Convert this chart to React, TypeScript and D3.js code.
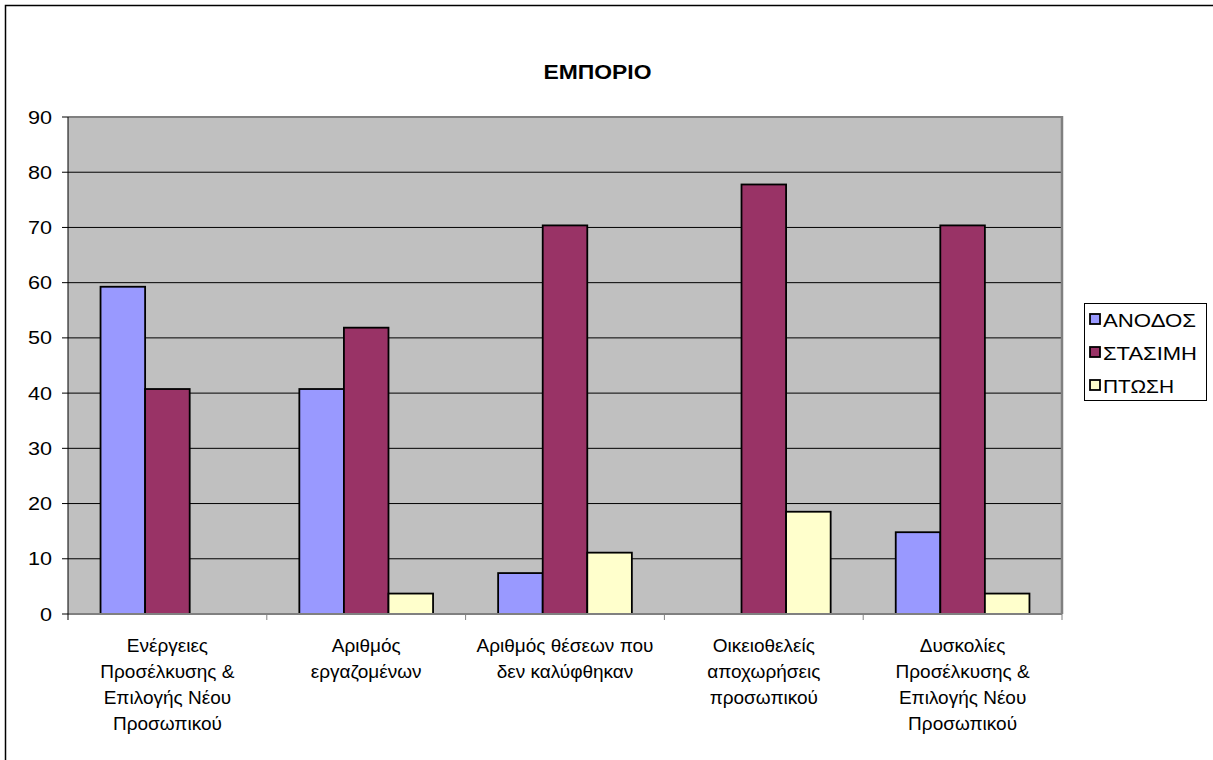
import React from "react";
import * as d3 from "d3";

const title = "ΕΜΠΟΡΙΟ";
const categories: string[][] = [
  ["Ενέργειες", "Προσέλκυσης &", "Επιλογής Νέου", "Προσωπικού"],
  ["Αριθμός", "εργαζομένων"],
  ["Αριθμός θέσεων που", "δεν καλύφθηκαν"],
  ["Οικειοθελείς", "αποχωρήσεις", "προσωπικού"],
  ["Δυσκολίες", "Προσέλκυσης &", "Επιλογής Νέου", "Προσωπικού"],
];
const seriesNames = ["ΑΝΟΔΟΣ", "ΣΤΑΣΙΜΗ", "ΠΤΩΣΗ"];
const seriesColors = ["#9999FF", "#993366", "#FFFFCC"];
const anodos = [59.26, 40.74, 7.41, 0, 14.81];
const stasimi = [40.74, 51.85, 70.37, 77.78, 70.37];
const ptosi = [0, 3.7, 11.11, 18.52, 3.7];
const yTicks = [0, 10, 20, 30, 40, 50, 60, 70, 80, 90];

const FONT = "'Liberation Sans', Arial, sans-serif";

export default function App() {
  const W = 1213, H = 760;
  const left = 68, right = 1062, top = 117, bottom = 614;
  const values = [anodos, stasimi, ptosi];
  const catIdx = categories.map((_, i) => String(i));
  const x = d3.scaleBand<string>().domain(catIdx).range([left, right]).padding(0);
  const xs = d3
    .scaleBand<string>()
    .domain(seriesNames)
    .range([0, x.bandwidth()])
    .paddingInner(0)
    .paddingOuter(0.73);
  const y = d3.scaleLinear().domain([0, 90]).range([bottom, top]);
  const legendLen = [93, 94, 71];

  return (
    <svg
      width={W}
      height={H}
      style={{ position: "absolute", left: 0, top: 0, background: "#fff" }}
      fontFamily={FONT}
    >
      <rect x={5.5} y={5.5} width={W + 10} height={H + 10} fill="#fff" stroke="#000" strokeWidth={1.5} />
      <text
        x={543.5}
        y={79}
        fontWeight="bold"
        fontSize={20}
        textLength={108}
        lengthAdjust="spacingAndGlyphs"
      >
        {title}
      </text>
      {/* plot area */}
      <rect x={left} y={top} width={right - left} height={bottom - top} fill="#C0C0C0" />
      {yTicks.filter((t) => t > 0 && t < 90).map((t) => (
        <line key={"g" + t} x1={left} x2={right} y1={y(t)} y2={y(t)} stroke="#000" strokeWidth={1} />
      ))}
      <line x1={left} x2={right} y1={top} y2={top} stroke="#808080" strokeWidth={2} />
      <line x1={right} x2={right} y1={top - 1} y2={bottom} stroke="#808080" strokeWidth={2.5} />
      {/* bars */}
      {values.map((vals, si) =>
        vals.map((v, ci) =>
          v > 0 ? (
            <rect
              key={si + "-" + ci}
              x={(x(String(ci)) as number) + (xs(seriesNames[si]) as number)}
              y={y(v)}
              width={xs.bandwidth()}
              height={y(0) - y(v)}
              fill={seriesColors[si]}
              stroke="#000"
              strokeWidth={1.8}
            />
          ) : null
        )
      )}
      {/* axes */}
      <line x1={left} x2={right} y1={bottom} y2={bottom} stroke="#808080" strokeWidth={2} />
      <line x1={left} x2={left} y1={top} y2={bottom + 6} stroke="#000" strokeWidth={1} />
      {yTicks.map((t) => (
        <g key={"t" + t}>
          <line x1={left - 6} x2={left} y1={y(t)} y2={y(t)} stroke="#000" strokeWidth={1} />
          <text
            transform={`translate(52,${y(t) + 6.5}) scale(1.2,1)`}
            textAnchor="end"
            fontSize={18}
          >
            {t}
          </text>
        </g>
      ))}
      {catIdx.map((c, i) => (
        <line
          key={"ct" + i}
          x1={(x(c) as number) + x.bandwidth()}
          x2={(x(c) as number) + x.bandwidth()}
          y1={bottom}
          y2={bottom + 6}
          stroke="#808080"
          strokeWidth={1}
        />
      ))}
      {categories.map((lines, i) => (
        <text
          key={"cl" + i}
          textAnchor="middle"
          fontSize={19}
          x={(x(String(i)) as number) + x.bandwidth() / 2}
          y={652}
        >
          {lines.map((l, li) => (
            <tspan key={li} x={(x(String(i)) as number) + x.bandwidth() / 2} y={652 + li * 26}>
              {l}
            </tspan>
          ))}
        </text>
      ))}
      {/* legend */}
      <rect x={1084.5} y={303.5} width={122} height={97} fill="#fff" stroke="#000" strokeWidth={1} />
      {seriesNames.map((s, i) => (
        <g key={"lg" + i}>
          <rect
            x={1090}
            y={314 + i * 33}
            width={10}
            height={10}
            fill={seriesColors[i]}
            stroke="#000"
            strokeWidth={1.8}
          />
          <text
            x={1103}
            y={327 + i * 33}
            fontSize={18.5}
            textLength={legendLen[i]}
            lengthAdjust="spacingAndGlyphs"
          >
            {s}
          </text>
        </g>
      ))}
    </svg>
  );
}
